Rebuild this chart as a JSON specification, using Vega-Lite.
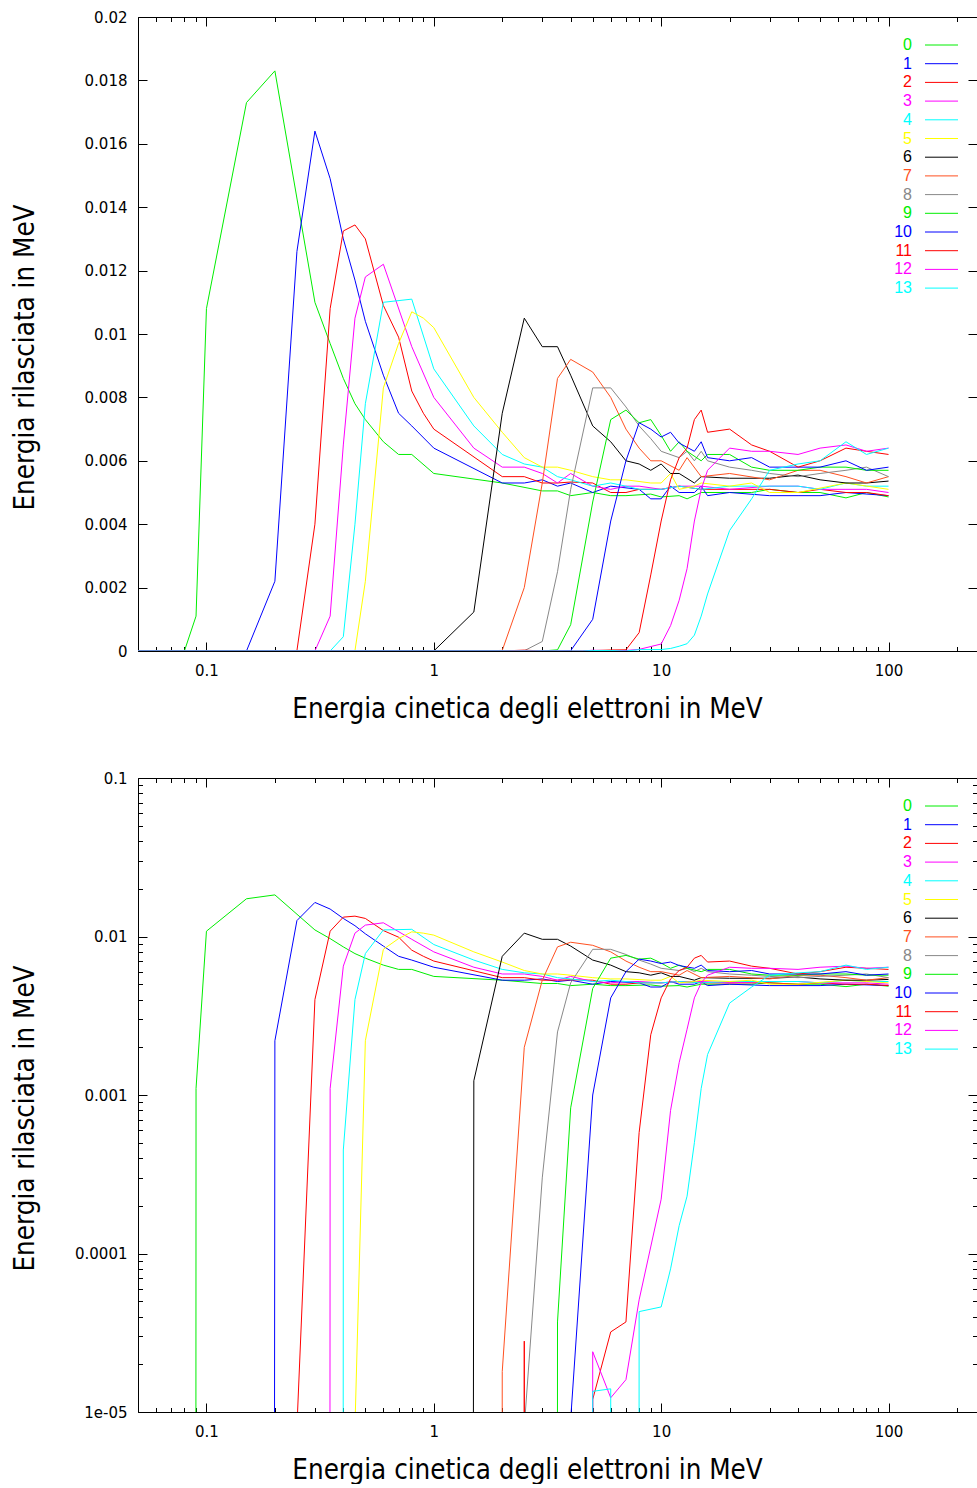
{
"$schema": "https://vega.github.io/schema/vega-lite/v6.json",
"background": "white",
"padding": {"left": 11, "top": 10, "right": 0, "bottom": 0},
"spacing": 48,
"config": {
  "view": {"stroke": null},
  "axis": {"domainColor": "#000000", "tickColor": "#000000", "labelColor": "#000000", "titleColor": "#000000", "grid": false,
    "labelFont": "DejaVu Sans", "labelFontSize": 15, "titleFont": "DejaVu Sans Condensed", "titleFontSize": 27.5, "titleFontWeight": "normal",
    "labelFlush": false, "labelOverlap": false, "labelBound": false, "domainWidth": 1, "tickWidth": 1}
},
"resolve": {"scale": {"color": "independent"}, "legend": {"color": "independent"}},
"datasets": {"d": [
{"s":"0","e":0.05,"v":0},{"s":"0","e":0.08,"v":0},{"s":"0","e":0.09,"v":0.0011},{"s":"0","e":0.1,"v":0.0108},{"s":"0","e":0.15,"v":0.0173},{"s":"0","e":0.2,"v":0.0183},{"s":"0","e":0.3,"v":0.011},{"s":"0","e":0.35,"v":0.0097},{"s":"0","e":0.4,"v":0.0086},{"s":"0","e":0.45,"v":0.0078},{"s":"0","e":0.5,"v":0.0073},{"s":"0","e":0.6,"v":0.0066},{"s":"0","e":0.7,"v":0.0062},{"s":"0","e":0.8,"v":0.0062},{"s":"0","e":1,"v":0.0056},{"s":"0","e":2,"v":0.0053},{"s":"0","e":3,"v":0.00505},{"s":"0","e":3.5,"v":0.00505},{"s":"0","e":4,"v":0.0049},{"s":"0","e":5,"v":0.005},{"s":"0","e":6,"v":0.0049},{"s":"0","e":7,"v":0.0049},{"s":"0","e":9,"v":0.00495},{"s":"0","e":10,"v":0.00486},{"s":"0","e":12,"v":0.0049},{"s":"0","e":13,"v":0.0048},{"s":"0","e":15,"v":0.005},{"s":"0","e":20,"v":0.005},{"s":"0","e":25,"v":0.005},{"s":"0","e":30,"v":0.0051},{"s":"0","e":40,"v":0.005},{"s":"0","e":50,"v":0.005},{"s":"0","e":65,"v":0.00483},{"s":"0","e":80,"v":0.005},{"s":"0","e":100,"v":0.00486},
{"s":"1","e":0.05,"v":0},{"s":"1","e":0.15,"v":0},{"s":"1","e":0.2,"v":0.0022},{"s":"1","e":0.25,"v":0.0126},{"s":"1","e":0.3,"v":0.0164},{"s":"1","e":0.35,"v":0.0149},{"s":"1","e":0.4,"v":0.013},{"s":"1","e":0.45,"v":0.0117},{"s":"1","e":0.5,"v":0.0104},{"s":"1","e":0.6,"v":0.0087},{"s":"1","e":0.7,"v":0.0075},{"s":"1","e":0.8,"v":0.0071},{"s":"1","e":1,"v":0.0064},{"s":"1","e":2,"v":0.0053},{"s":"1","e":2.5,"v":0.0053},{"s":"1","e":3,"v":0.0054},{"s":"1","e":3.5,"v":0.0052},{"s":"1","e":4,"v":0.0053},{"s":"1","e":5,"v":0.005},{"s":"1","e":6,"v":0.0052},{"s":"1","e":8,"v":0.0051},{"s":"1","e":9,"v":0.0048},{"s":"1","e":10,"v":0.0048},{"s":"1","e":11,"v":0.0052},{"s":"1","e":12,"v":0.005},{"s":"1","e":14,"v":0.005},{"s":"1","e":15,"v":0.0052},{"s":"1","e":16,"v":0.0049},{"s":"1","e":20,"v":0.005},{"s":"1","e":30,"v":0.0049},{"s":"1","e":40,"v":0.0049},{"s":"1","e":50,"v":0.0049},{"s":"1","e":65,"v":0.005},{"s":"1","e":100,"v":0.0049},
{"s":"2","e":0.05,"v":0},{"s":"2","e":0.2,"v":0},{"s":"2","e":0.25,"v":0.000008},{"s":"2","e":0.3,"v":0.004},{"s":"2","e":0.35,"v":0.0108},{"s":"2","e":0.4,"v":0.01325},{"s":"2","e":0.45,"v":0.01344},{"s":"2","e":0.5,"v":0.013},{"s":"2","e":0.6,"v":0.0109},{"s":"2","e":0.7,"v":0.0099},{"s":"2","e":0.8,"v":0.0082},{"s":"2","e":0.9,"v":0.0075},{"s":"2","e":1,"v":0.007},{"s":"2","e":2,"v":0.0055},{"s":"2","e":2.5,"v":0.0055},{"s":"2","e":3,"v":0.0053},{"s":"2","e":3.5,"v":0.0053},{"s":"2","e":4,"v":0.00533},{"s":"2","e":5,"v":0.0053},{"s":"2","e":6,"v":0.005},{"s":"2","e":7,"v":0.005},{"s":"2","e":8,"v":0.0051},{"s":"2","e":10,"v":0.0051},{"s":"2","e":12,"v":0.0052},{"s":"2","e":15,"v":0.0051},{"s":"2","e":20,"v":0.0051},{"s":"2","e":30,"v":0.0051},{"s":"2","e":40,"v":0.005},{"s":"2","e":50,"v":0.0051},{"s":"2","e":65,"v":0.005},{"s":"2","e":80,"v":0.005},{"s":"2","e":100,"v":0.0049},
{"s":"3","e":0.05,"v":0},{"s":"3","e":0.3,"v":0},{"s":"3","e":0.35,"v":0.0011},{"s":"3","e":0.4,"v":0.0065},{"s":"3","e":0.45,"v":0.0105},{"s":"3","e":0.5,"v":0.0118},{"s":"3","e":0.6,"v":0.0122},{"s":"3","e":0.8,"v":0.0096},{"s":"3","e":1,"v":0.008},{"s":"3","e":1.5,"v":0.0064},{"s":"3","e":2,"v":0.0058},{"s":"3","e":2.5,"v":0.0058},{"s":"3","e":3,"v":0.0056},{"s":"3","e":3.5,"v":0.0053},{"s":"3","e":4,"v":0.0056},{"s":"3","e":5,"v":0.0052},{"s":"3","e":6,"v":0.0051},{"s":"3","e":7,"v":0.0052},{"s":"3","e":8,"v":0.0052},{"s":"3","e":10,"v":0.0051},{"s":"3","e":12,"v":0.0052},{"s":"3","e":15,"v":0.0052},{"s":"3","e":20,"v":0.0051},{"s":"3","e":30,"v":0.0052},{"s":"3","e":40,"v":0.0052},{"s":"3","e":50,"v":0.0051},{"s":"3","e":65,"v":0.0051},{"s":"3","e":80,"v":0.0051},{"s":"3","e":100,"v":0.005},
{"s":"4","e":0.05,"v":0},{"s":"4","e":0.35,"v":0},{"s":"4","e":0.4,"v":0.00045},{"s":"4","e":0.45,"v":0.004},{"s":"4","e":0.5,"v":0.0078},{"s":"4","e":0.6,"v":0.011},{"s":"4","e":0.8,"v":0.0111},{"s":"4","e":1,"v":0.0089},{"s":"4","e":1.5,"v":0.0071},{"s":"4","e":2,"v":0.0062},{"s":"4","e":2.5,"v":0.0059},{"s":"4","e":3,"v":0.0058},{"s":"4","e":3.5,"v":0.0055},{"s":"4","e":4,"v":0.0054},{"s":"4","e":5,"v":0.0052},{"s":"4","e":6,"v":0.0053},{"s":"4","e":7,"v":0.0052},{"s":"4","e":8,"v":0.0051},{"s":"4","e":10,"v":0.0051},{"s":"4","e":12,"v":0.0052},{"s":"4","e":15,"v":0.0051},{"s":"4","e":20,"v":0.0052},{"s":"4","e":30,"v":0.0052},{"s":"4","e":40,"v":0.0052},{"s":"4","e":50,"v":0.0051},{"s":"4","e":65,"v":0.0053},{"s":"4","e":80,"v":0.0052},{"s":"4","e":100,"v":0.0052},
{"s":"5","e":0.05,"v":0},{"s":"5","e":0.4,"v":0},{"s":"5","e":0.45,"v":0.000008},{"s":"5","e":0.5,"v":0.0022},{"s":"5","e":0.6,"v":0.0083},{"s":"5","e":0.7,"v":0.0097},{"s":"5","e":0.8,"v":0.0107},{"s":"5","e":0.9,"v":0.0105},{"s":"5","e":1,"v":0.0102},{"s":"5","e":1.5,"v":0.008},{"s":"5","e":2,"v":0.0069},{"s":"5","e":2.5,"v":0.0061},{"s":"5","e":3,"v":0.0058},{"s":"5","e":3.5,"v":0.0058},{"s":"5","e":4,"v":0.0057},{"s":"5","e":5,"v":0.0055},{"s":"5","e":6,"v":0.0054},{"s":"5","e":7,"v":0.0054},{"s":"5","e":9,"v":0.0053},{"s":"5","e":10,"v":0.0053},{"s":"5","e":11,"v":0.0056},{"s":"5","e":12,"v":0.0051},{"s":"5","e":14,"v":0.0052},{"s":"5","e":15,"v":0.0053},{"s":"5","e":20,"v":0.0052},{"s":"5","e":25,"v":0.0053},{"s":"5","e":30,"v":0.005},{"s":"5","e":40,"v":0.005},{"s":"5","e":65,"v":0.0053},{"s":"5","e":100,"v":0.0051},
{"s":"6","e":0.05,"v":0},{"s":"6","e":1,"v":0},{"s":"6","e":1.5,"v":0.00123},{"s":"6","e":2,"v":0.0075},{"s":"6","e":2.5,"v":0.0105},{"s":"6","e":3,"v":0.0096},{"s":"6","e":3.5,"v":0.0096},{"s":"6","e":4,"v":0.0087},{"s":"6","e":5,"v":0.0071},{"s":"6","e":6,"v":0.0066},{"s":"6","e":7,"v":0.006},{"s":"6","e":8,"v":0.0059},{"s":"6","e":9,"v":0.0057},{"s":"6","e":10,"v":0.0059},{"s":"6","e":11,"v":0.0056},{"s":"6","e":12,"v":0.0056},{"s":"6","e":14,"v":0.0053},{"s":"6","e":15,"v":0.0055},{"s":"6","e":20,"v":0.00545},{"s":"6","e":30,"v":0.00545},{"s":"6","e":40,"v":0.00555},{"s":"6","e":50,"v":0.0054},{"s":"6","e":65,"v":0.0053},{"s":"6","e":80,"v":0.0053},{"s":"6","e":100,"v":0.00536},
{"s":"7","e":0.05,"v":0},{"s":"7","e":1.5,"v":0},{"s":"7","e":2,"v":0.000018},{"s":"7","e":2.5,"v":0.002},{"s":"7","e":3,"v":0.0053},{"s":"7","e":3.5,"v":0.0086},{"s":"7","e":4,"v":0.0092},{"s":"7","e":5,"v":0.0088},{"s":"7","e":6,"v":0.008},{"s":"7","e":7,"v":0.007},{"s":"7","e":8,"v":0.0064},{"s":"7","e":9,"v":0.006},{"s":"7","e":10,"v":0.006},{"s":"7","e":12,"v":0.0057},{"s":"7","e":13,"v":0.0061},{"s":"7","e":15,"v":0.0055},{"s":"7","e":20,"v":0.0056},{"s":"7","e":30,"v":0.0054},{"s":"7","e":40,"v":0.0057},{"s":"7","e":50,"v":0.0057},{"s":"7","e":65,"v":0.0055},{"s":"7","e":80,"v":0.0053},{"s":"7","e":100,"v":0.0055},
{"s":"8","e":0.05,"v":0},{"s":"8","e":2,"v":0},{"s":"8","e":2.5,"v":0.000008},{"s":"8","e":3,"v":0.0003},{"s":"8","e":3.5,"v":0.0025},{"s":"8","e":4,"v":0.0051},{"s":"8","e":5,"v":0.0083},{"s":"8","e":6,"v":0.0083},{"s":"8","e":7,"v":0.0077},{"s":"8","e":8,"v":0.0071},{"s":"8","e":9,"v":0.0067},{"s":"8","e":10,"v":0.0063},{"s":"8","e":12,"v":0.0061},{"s":"8","e":13,"v":0.0063},{"s":"8","e":14,"v":0.006},{"s":"8","e":15,"v":0.0063},{"s":"8","e":16,"v":0.006},{"s":"8","e":20,"v":0.0058},{"s":"8","e":25,"v":0.0057},{"s":"8","e":30,"v":0.0056},{"s":"8","e":40,"v":0.0055},{"s":"8","e":50,"v":0.0056},{"s":"8","e":65,"v":0.0057},{"s":"8","e":80,"v":0.0058},{"s":"8","e":100,"v":0.0055},
{"s":"9","e":0.05,"v":0},{"s":"9","e":3,"v":0},{"s":"9","e":3.5,"v":0.000037},{"s":"9","e":4,"v":0.00083},{"s":"9","e":5,"v":0.0047},{"s":"9","e":6,"v":0.0073},{"s":"9","e":7,"v":0.0076},{"s":"9","e":8,"v":0.0072},{"s":"9","e":9,"v":0.0073},{"s":"9","e":10,"v":0.0068},{"s":"9","e":11,"v":0.0063},{"s":"9","e":12,"v":0.0066},{"s":"9","e":13,"v":0.0063},{"s":"9","e":15,"v":0.006},{"s":"9","e":16,"v":0.0062},{"s":"9","e":20,"v":0.0062},{"s":"9","e":25,"v":0.0058},{"s":"9","e":30,"v":0.0057},{"s":"9","e":40,"v":0.0057},{"s":"9","e":50,"v":0.0058},{"s":"9","e":65,"v":0.0058},{"s":"9","e":80,"v":0.0057},{"s":"9","e":100,"v":0.0057},
{"s":"10","e":0.05,"v":0},{"s":"10","e":3.5,"v":0},{"s":"10","e":4,"v":0.000009},{"s":"10","e":5,"v":0.001},{"s":"10","e":6,"v":0.0041},{"s":"10","e":7,"v":0.006},{"s":"10","e":8,"v":0.0072},{"s":"10","e":9,"v":0.007},{"s":"10","e":10,"v":0.00675},{"s":"10","e":11,"v":0.0069},{"s":"10","e":12,"v":0.00656},{"s":"10","e":14,"v":0.0063},{"s":"10","e":15,"v":0.0066},{"s":"10","e":16,"v":0.0061},{"s":"10","e":20,"v":0.006},{"s":"10","e":25,"v":0.0061},{"s":"10","e":30,"v":0.0058},{"s":"10","e":40,"v":0.0058},{"s":"10","e":50,"v":0.0058},{"s":"10","e":65,"v":0.006},{"s":"10","e":80,"v":0.0057},{"s":"10","e":100,"v":0.0058},
{"s":"11","e":0.05,"v":0},{"s":"11","e":2,"v":0},{"s":"11","e":2.5,"v":0.000028},{"s":"11","e":3,"v":0},{"s":"11","e":4.5,"v":0},{"s":"11","e":5,"v":0.000012},{"s":"11","e":6,"v":0.000032},{"s":"11","e":7,"v":0.000037},{"s":"11","e":8,"v":0.00058},{"s":"11","e":9,"v":0.0024},{"s":"11","e":10,"v":0.0041},{"s":"11","e":11,"v":0.0054},{"s":"11","e":12,"v":0.0061},{"s":"11","e":13,"v":0.0064},{"s":"11","e":14,"v":0.0073},{"s":"11","e":15,"v":0.0076},{"s":"11","e":16,"v":0.0069},{"s":"11","e":20,"v":0.007},{"s":"11","e":25,"v":0.0065},{"s":"11","e":30,"v":0.0063},{"s":"11","e":40,"v":0.0058},{"s":"11","e":50,"v":0.006},{"s":"11","e":65,"v":0.0064},{"s":"11","e":80,"v":0.0063},{"s":"11","e":100,"v":0.0062},
{"s":"12","e":0.05,"v":0},{"s":"12","e":4.5,"v":0},{"s":"12","e":5,"v":0.000024},{"s":"12","e":6,"v":0.0000123},{"s":"12","e":7,"v":0.000016},{"s":"12","e":8,"v":0.000051},{"s":"12","e":10,"v":0.00022},{"s":"12","e":11,"v":0.0008},{"s":"12","e":12,"v":0.0016},{"s":"12","e":13,"v":0.0026},{"s":"12","e":14,"v":0.0041},{"s":"12","e":15,"v":0.0051},{"s":"12","e":16,"v":0.0057},{"s":"12","e":20,"v":0.0064},{"s":"12","e":25,"v":0.0063},{"s":"12","e":30,"v":0.0063},{"s":"12","e":40,"v":0.0062},{"s":"12","e":50,"v":0.0064},{"s":"12","e":65,"v":0.0065},{"s":"12","e":80,"v":0.0063},{"s":"12","e":100,"v":0.0064},
{"s":"13","e":0.05,"v":0},{"s":"13","e":4.5,"v":0},{"s":"13","e":5,"v":0.0000135},{"s":"13","e":6,"v":0.000014},{"s":"13","e":7,"v":0},{"s":"13","e":8,"v":0.000043},{"s":"13","e":10,"v":0.000046},{"s":"13","e":11,"v":0.00008},{"s":"13","e":12,"v":0.00015},{"s":"13","e":13,"v":0.00023},{"s":"13","e":14,"v":0.0005},{"s":"13","e":15,"v":0.0011},{"s":"13","e":16,"v":0.0018},{"s":"13","e":20,"v":0.0038},{"s":"13","e":25,"v":0.0048},{"s":"13","e":30,"v":0.0057},{"s":"13","e":40,"v":0.0059},{"s":"13","e":50,"v":0.006},{"s":"13","e":65,"v":0.0066},{"s":"13","e":80,"v":0.0062},{"s":"13","e":100,"v":0.0064}
]},
"vconcat": [
{
  "width": 839, "height": 634,
  "data": {"name": "d"},
  "resolve": {"axis": {"x": "independent", "y": "independent"}},
  "layer": [
    {
      "mark": {"type": "line", "strokeWidth": 1, "clip": true},
      "encoding": {
        "x": {"field": "e", "type": "quantitative", "scale": {"type": "log", "domain": [0.05, 245], "nice": false},
          "axis": {"orient": "bottom", "values": [0.1, 1, 10, 100], "format": "~g", "ticks": false, "domain": true, "labelPadding": 12,
            "title": "Energia cinetica degli elettroni in MeV", "titleX": 389, "titleY": 58, "titleBaseline": "middle", "titleAlign": "center"}},
        "y": {"field": "v", "type": "quantitative", "scale": {"type": "linear", "domain": [0, 0.02], "nice": false, "zero": false},
          "axis": {"orient": "left", "values": [0, 0.002, 0.004, 0.006, 0.008, 0.01, 0.012, 0.014, 0.016, 0.018, 0.02], "format": "~g", "ticks": false, "domain": true, "labelPadding": 11,
            "title": "Energia rilasciata in MeV", "titleX": -113, "titleY": 340, "titleBaseline": "middle", "titleAlign": "center", "titleAngle": 270}},
        "color": {"field": "s", "type": "nominal",
          "scale": {"domain": ["0","1","2","3","4","5","6","7","8","9","10","11","12","13"],
            "range": ["#00ee00","#0000ff","#ff0000","#ff00ff","#00ffff","#ffff00","#000000","#ff5020","#888888","#00ee00","#0000ff","#ff0000","#ff00ff","#00ffff"]},
          "legend": {"orient": "none", "legendX": 752, "legendY": 20, "title": null, "symbolType": "M-3.3,0H3.3", "symbolStrokeWidth": 1, "symbolSize": 100,
            "labelFont": "Liberation Sans", "labelFontSize": 16, "rowPadding": 2.7, "padding": 0, "labelOffset": 0,
            "encode": {
              "labels": {"update": {"x": {"value": 22}, "align": {"value": "right"},
                "fill": {"signal": "['#00ee00','#0000ff','#ff0000','#ff00ff','#00ffff','#ffff00','#000000','#ff5020','#888888','#00ee00','#0000ff','#ff0000','#ff00ff','#00ffff'][datum.index]"}}},
              "symbols": {"update": {"x": {"value": 51.5}}}
            }}}
      }
    },
    {
      "transform": [{"filter": "datum.e >= 100"}],
      "mark": {"type": "point", "opacity": 0},
      "encoding": {
        "x": {"field": "e", "type": "quantitative", "scale": {"type": "log", "domain": [0.05, 245], "nice": false},
          "axis": {"orient": "bottom", "values": [0.1, 1, 10, 100], "labels": false, "domain": false, "tickSize": -9, "title": null}},
        "y": {"field": "v", "type": "quantitative", "scale": {"type": "linear", "domain": [0, 0.02], "nice": false, "zero": false},
          "axis": {"orient": "left", "values": [0, 0.002, 0.004, 0.006, 0.008, 0.01, 0.012, 0.014, 0.016, 0.018, 0.02], "labels": false, "domain": false, "tickSize": -9, "title": null}}
      }
    },
    {
      "transform": [{"filter": "datum.e >= 100"}],
      "mark": {"type": "point", "opacity": 0},
      "encoding": {
        "x": {"field": "e", "type": "quantitative", "scale": {"type": "log", "domain": [0.05, 245], "nice": false},
          "axis": {"orient": "bottom", "values": [0.05,0.06,0.07,0.08,0.09,0.2,0.3,0.4,0.5,0.6,0.7,0.8,0.9,2,3,4,5,6,7,8,9,20,30,40,50,60,70,80,90,200], "labels": false, "domain": false, "tickSize": -4.5, "title": null}},
        "y": {"field": "v", "type": "quantitative", "scale": {"type": "linear", "domain": [0, 0.02], "nice": false, "zero": false}, "axis": null}
      }
    },
    {
      "transform": [{"filter": "datum.e >= 100"}],
      "mark": {"type": "point", "opacity": 0},
      "encoding": {
        "x": {"field": "e", "type": "quantitative", "scale": {"type": "log", "domain": [0.05, 245], "nice": false},
          "axis": {"orient": "top", "values": [0.1, 1, 10, 100], "labels": false, "domain": true, "tickSize": -9, "title": null}},
        "y": {"field": "v", "type": "quantitative", "scale": {"type": "linear", "domain": [0, 0.02], "nice": false, "zero": false},
          "axis": {"orient": "right", "values": [0, 0.002, 0.004, 0.006, 0.008, 0.01, 0.012, 0.014, 0.016, 0.018, 0.02], "labels": false, "domain": false, "tickSize": -9, "title": null}}
      }
    },
    {
      "transform": [{"filter": "datum.e >= 100"}],
      "mark": {"type": "point", "opacity": 0},
      "encoding": {
        "x": {"field": "e", "type": "quantitative", "scale": {"type": "log", "domain": [0.05, 245], "nice": false},
          "axis": {"orient": "top", "values": [0.05,0.06,0.07,0.08,0.09,0.2,0.3,0.4,0.5,0.6,0.7,0.8,0.9,2,3,4,5,6,7,8,9,20,30,40,50,60,70,80,90,200], "labels": false, "domain": false, "tickSize": -4.5, "title": null}},
        "y": {"field": "v", "type": "quantitative", "scale": {"type": "linear", "domain": [0, 0.02], "nice": false, "zero": false}, "axis": null}
      }
    }
  ]
},
{
  "width": 839, "height": 634,
  "data": {"name": "d"},
  "resolve": {"axis": {"x": "independent", "y": "independent"}},
  "layer": [
    {
      "mark": {"type": "line", "strokeWidth": 1, "clip": true},
      "encoding": {
        "x": {"field": "e", "type": "quantitative", "scale": {"type": "log", "domain": [0.05, 245], "nice": false},
          "axis": {"orient": "bottom", "values": [0.1, 1, 10, 100], "format": "~g", "ticks": false, "domain": true, "labelPadding": 12,
            "title": "Energia cinetica degli elettroni in MeV", "titleX": 389, "titleY": 58, "titleBaseline": "middle", "titleAlign": "center"}},
        "y": {"field": "v", "type": "quantitative", "scale": {"type": "symlog", "constant": 1e-200, "domain": [0.00001, 0.1], "nice": false, "zero": false},
          "axis": {"orient": "left", "values": [0.00001, 0.0001, 0.001, 0.01, 0.1], "labelExpr": "datum.value < 0.00005 ? '1e-05' : format(datum.value, '~g')", "ticks": false, "domain": true, "labelPadding": 11,
            "title": "Energia rilasciata in MeV", "titleX": -113, "titleY": 340, "titleBaseline": "middle", "titleAlign": "center", "titleAngle": 270}},
        "color": {"field": "s", "type": "nominal",
          "scale": {"domain": ["0","1","2","3","4","5","6","7","8","9","10","11","12","13"],
            "range": ["#00ee00","#0000ff","#ff0000","#ff00ff","#00ffff","#ffff00","#000000","#ff5020","#888888","#00ee00","#0000ff","#ff0000","#ff00ff","#00ffff"]},
          "legend": {"orient": "none", "legendX": 752, "legendY": 20, "title": null, "symbolType": "M-3.3,0H3.3", "symbolStrokeWidth": 1, "symbolSize": 100,
            "labelFont": "Liberation Sans", "labelFontSize": 16, "rowPadding": 2.7, "padding": 0, "labelOffset": 0,
            "encode": {
              "labels": {"update": {"x": {"value": 22}, "align": {"value": "right"},
                "fill": {"signal": "['#00ee00','#0000ff','#ff0000','#ff00ff','#00ffff','#ffff00','#000000','#ff5020','#888888','#00ee00','#0000ff','#ff0000','#ff00ff','#00ffff'][datum.index]"}}},
              "symbols": {"update": {"x": {"value": 51.5}}}
            }}}
      }
    },
    {
      "transform": [{"filter": "datum.e >= 100"}],
      "mark": {"type": "point", "opacity": 0},
      "encoding": {
        "x": {"field": "e", "type": "quantitative", "scale": {"type": "log", "domain": [0.05, 245], "nice": false},
          "axis": {"orient": "bottom", "values": [0.1, 1, 10, 100], "labels": false, "domain": false, "tickSize": -9, "title": null}},
        "y": {"field": "v", "type": "quantitative", "scale": {"type": "symlog", "constant": 1e-200, "domain": [0.00001, 0.1], "nice": false, "zero": false},
          "axis": {"orient": "left", "values": [0.00001, 0.0001, 0.001, 0.01, 0.1], "labels": false, "domain": false, "tickSize": -9, "title": null}}
      }
    },
    {
      "transform": [{"filter": "datum.e >= 100"}],
      "mark": {"type": "point", "opacity": 0},
      "encoding": {
        "x": {"field": "e", "type": "quantitative", "scale": {"type": "log", "domain": [0.05, 245], "nice": false},
          "axis": {"orient": "bottom", "values": [0.05,0.06,0.07,0.08,0.09,0.2,0.3,0.4,0.5,0.6,0.7,0.8,0.9,2,3,4,5,6,7,8,9,20,30,40,50,60,70,80,90,200], "labels": false, "domain": false, "tickSize": -4.5, "title": null}},
        "y": {"field": "v", "type": "quantitative", "scale": {"type": "symlog", "constant": 1e-200, "domain": [0.00001, 0.1], "nice": false, "zero": false},
          "axis": {"orient": "left", "values": [0.00002,0.00003,0.00004,0.00005,0.00006,0.00007,0.00008,0.00009,0.0002,0.0003,0.0004,0.0005,0.0006,0.0007,0.0008,0.0009,0.002,0.003,0.004,0.005,0.006,0.007,0.008,0.009,0.02,0.03,0.04,0.05,0.06,0.07,0.08,0.09], "labels": false, "domain": false, "tickSize": -4.5, "title": null}}
      }
    },
    {
      "transform": [{"filter": "datum.e >= 100"}],
      "mark": {"type": "point", "opacity": 0},
      "encoding": {
        "x": {"field": "e", "type": "quantitative", "scale": {"type": "log", "domain": [0.05, 245], "nice": false},
          "axis": {"orient": "top", "values": [0.1, 1, 10, 100], "labels": false, "domain": true, "tickSize": -9, "title": null}},
        "y": {"field": "v", "type": "quantitative", "scale": {"type": "symlog", "constant": 1e-200, "domain": [0.00001, 0.1], "nice": false, "zero": false},
          "axis": {"orient": "right", "values": [0.00001, 0.0001, 0.001, 0.01, 0.1], "labels": false, "domain": false, "tickSize": -9, "title": null}}
      }
    },
    {
      "transform": [{"filter": "datum.e >= 100"}],
      "mark": {"type": "point", "opacity": 0},
      "encoding": {
        "x": {"field": "e", "type": "quantitative", "scale": {"type": "log", "domain": [0.05, 245], "nice": false},
          "axis": {"orient": "top", "values": [0.05,0.06,0.07,0.08,0.09,0.2,0.3,0.4,0.5,0.6,0.7,0.8,0.9,2,3,4,5,6,7,8,9,20,30,40,50,60,70,80,90,200], "labels": false, "domain": false, "tickSize": -4.5, "title": null}},
        "y": {"field": "v", "type": "quantitative", "scale": {"type": "symlog", "constant": 1e-200, "domain": [0.00001, 0.1], "nice": false, "zero": false},
          "axis": {"orient": "right", "values": [0.00002,0.00003,0.00004,0.00005,0.00006,0.00007,0.00008,0.00009,0.0002,0.0003,0.0004,0.0005,0.0006,0.0007,0.0008,0.0009,0.002,0.003,0.004,0.005,0.006,0.007,0.008,0.009,0.02,0.03,0.04,0.05,0.06,0.07,0.08,0.09], "labels": false, "domain": false, "tickSize": -4.5, "title": null}}
      }
    }
  ]
}
]
}
